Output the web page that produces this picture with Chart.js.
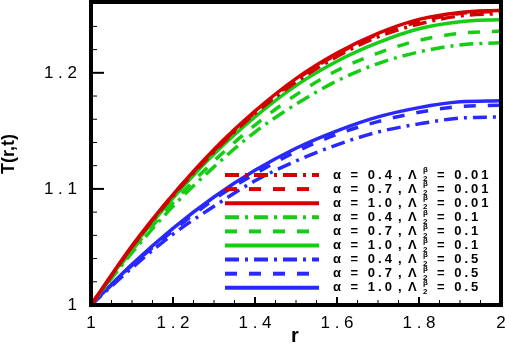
<!DOCTYPE html>
<html>
<head>
<meta charset="utf-8">
<script src="https://cdn.jsdelivr.net/npm/chart.js@4.4.1/dist/chart.umd.min.js"></script>
<style>
  html, body { margin: 0; padding: 0; background: #fff; }
</style>
</head>
<body>
<canvas id="tempChart" width="505" height="344"></canvas>
<script>
// radial positions
const rValues = [1, 1.1, 1.2, 1.3, 1.4, 1.5, 1.6, 1.7, 1.8, 1.9, 2];

// T(r,t), one array per curve
const T_a04_l001 = [1, 1.050, 1.094, 1.132, 1.165, 1.192, 1.214, 1.231, 1.242, 1.249, 1.251];
const T_a07_l001 = [1, 1.050, 1.095, 1.133, 1.166, 1.194, 1.216, 1.233, 1.244, 1.251, 1.253];
const T_a10_l001 = [1, 1.051, 1.095, 1.134, 1.167, 1.195, 1.217, 1.234, 1.246, 1.252, 1.254];
const T_a04_l01  = [1, 1.045, 1.085, 1.119, 1.149, 1.173, 1.193, 1.208, 1.218, 1.224, 1.226];
const T_a07_l01  = [1, 1.047, 1.088, 1.124, 1.155, 1.181, 1.202, 1.217, 1.228, 1.234, 1.236];
const T_a10_l01  = [1, 1.049, 1.092, 1.130, 1.162, 1.189, 1.210, 1.226, 1.238, 1.244, 1.246];
const T_a04_l05  = [1, 1.032, 1.061, 1.085, 1.107, 1.124, 1.138, 1.149, 1.156, 1.161, 1.162];
const T_a07_l05  = [1, 1.034, 1.064, 1.091, 1.113, 1.132, 1.147, 1.158, 1.166, 1.171, 1.172];
const T_a10_l05  = [1, 1.035, 1.066, 1.093, 1.116, 1.135, 1.150, 1.162, 1.170, 1.175, 1.176];

const alphaLabels  = ['0.4', '0.7', '1.0', '0.4', '0.7', '1.0', '0.4', '0.7', '1.0'];
const lambdaLabels = ['0.01', '0.01', '0.01', '0.1', '0.1', '0.1', '0.5', '0.5', '0.5'];

const xTicks = [1, 1.2, 1.4, 1.6, 1.8, 2];
const yTicks = [1, 1.1, 1.2];

const RED = 'rgb(212,0,0)', GREEN = 'rgb(20,205,20)', BLUE = 'rgb(40,40,255)';
const DASHDOT = [14, 6, 3, 6], DASH = [12, 12], SOLID = [];

const curves = [
  { values: T_a04_l001, color: RED,   dash: DASHDOT },
  { values: T_a07_l001, color: RED,   dash: DASH },
  { values: T_a10_l001, color: RED,   dash: SOLID },
  { values: T_a04_l01,  color: GREEN, dash: DASHDOT },
  { values: T_a07_l01,  color: GREEN, dash: DASH },
  { values: T_a10_l01,  color: GREEN, dash: SOLID },
  { values: T_a04_l05,  color: BLUE,  dash: DASHDOT },
  { values: T_a07_l05,  color: BLUE,  dash: DASH },
  { values: T_a10_l05,  color: BLUE,  dash: SOLID }
];

const FONT = "'Liberation Sans', Arial, sans-serif";

function spacedLabel(v) {
  if (Number.isInteger(v)) return String(v);
  return v.toFixed(1).split('').join(' ');
}

// draw text one char at a time with extra spacing (tecplot look)
function drawSpaced(ctx, text, x, y, gap) {
  for (const ch of text) {
    ctx.fillText(ch, x, y);
    x += ctx.measureText(ch).width + gap;
  }
}

// frame, inward ticks, axis titles and the legend
const framePlugin = {
  id: 'frame',
  afterDatasetsDraw(chart) {
    const { ctx, chartArea: a, scales } = chart;
    const xs = scales.x, ys = scales.y;
    ctx.save();
    ctx.strokeStyle = '#000';
    ctx.setLineDash([]);

    // x ticks (major 0.2, minor 0.05)
    for (let i = 0; i <= 20; i++) {
      const v = 1 + i * 0.05;
      const px = xs.getPixelForValue(v);
      const major = i % 4 === 0;
      ctx.lineWidth = major ? 2 : 1;
      ctx.beginPath();
      ctx.moveTo(px, a.bottom);
      ctx.lineTo(px, a.bottom - (major ? 8 : 5));
      ctx.stroke();
    }
    // y ticks (major 0.1, minor 0.02)
    for (let i = 0; i <= 13; i++) {
      const v = 1 + i * 0.02;
      if (v > ys.max) break;
      const py = ys.getPixelForValue(v);
      const major = i % 5 === 0;
      ctx.lineWidth = major ? 2 : 1;
      ctx.beginPath();
      ctx.moveTo(a.left, py);
      ctx.lineTo(a.left + (major ? 13 : 6), py);
      ctx.stroke();
    }

    // thick box
    ctx.lineWidth = 4;
    ctx.strokeRect(a.left, a.top, a.right - a.left, a.bottom - a.top);

    // axis titles
    ctx.fillStyle = '#000';
    ctx.textAlign = 'center';
    ctx.font = 'bold 20px ' + FONT;
    ctx.textBaseline = 'alphabetic';
    ctx.fillText('r', 295, 342);
    ctx.save();
    ctx.translate(9, 154);
    ctx.rotate(-Math.PI / 2);
    ctx.font = 'bold 18px ' + FONT;
    ctx.textBaseline = 'middle';
    ctx.fillText('T(r,t)', 0, 0);
    ctx.restore();

    // legend
    const y0 = 175, dy = 14.1;
    chart.data.datasets.forEach((ds, i) => {
      const y = y0 + i * dy;
      ctx.strokeStyle = ds.borderColor;
      ctx.lineWidth = 4;
      ctx.setLineDash(ds.borderDash);
      ctx.beginPath();
      ctx.moveTo(225, y);
      ctx.lineTo(319, y);
      ctx.stroke();
      ctx.setLineDash([]);

      ctx.fillStyle = '#000';
      ctx.textAlign = 'left';
      ctx.textBaseline = 'middle';
      ctx.font = 'bold 13px ' + FONT;
      drawSpaced(ctx, 'α = ' + alphaLabels[i], 333, y, 3);
      ctx.fillText(',', 398, y);
      ctx.fillText('Λ', 408, y);
      drawSpaced(ctx, '= ' + lambdaLabels[i], 437, y, 3);
      ctx.font = 'bold 8px ' + FONT;
      ctx.fillText('β', 423, y - 5);
      ctx.fillText('2', 423, y + 4);
    });
    ctx.restore();
  }
};

const ctx = document.getElementById('tempChart').getContext('2d');
const tempChart = new Chart(ctx, {
  type: 'line',
  data: {
    datasets: curves.map((c, i) => ({
      label: 'α = ' + alphaLabels[i] + ', Λ2β = ' + lambdaLabels[i],
      data: rValues.map((r, j) => ({ x: r, y: c.values[j] })),
      borderColor: c.color,
      borderDash: c.dash,
      borderWidth: 3.5,
      pointRadius: 0,
      fill: false,
      cubicInterpolationMode: 'monotone'
    }))
  },
  options: {
    responsive: false,
    animation: false,
    devicePixelRatio: 1,
    layout: { padding: { top: 2, right: 4, left: 0, bottom: 0 } },
    plugins: {
      legend: { display: false },
      tooltip: { enabled: false }
    },
    scales: {
      x: {
        type: 'linear',
        min: 1,
        max: 2,
        afterBuildTicks: s => { s.ticks = xTicks.map(v => ({ value: v })); },
        afterFit: s => { s.height = 39; s.paddingLeft = 0; s.paddingRight = 0; },
        grid: { display: false, drawTicks: false },
        border: { display: false },
        ticks: {
          color: '#000',
          padding: 8,
          maxRotation: 0,
          font: { family: FONT, size: 17 },
          callback: v => spacedLabel(v)
        }
      },
      y: {
        type: 'linear',
        min: 1,
        max: 1.261,
        afterBuildTicks: s => { s.ticks = yTicks.map(v => ({ value: v })); },
        afterFit: s => { s.width = 91; s.paddingTop = 0; s.paddingBottom = 0; },
        grid: { display: false, drawTicks: false },
        border: { display: false },
        ticks: {
          color: '#000',
          padding: 14,
          font: { family: FONT, size: 17 },
          callback: v => spacedLabel(v)
        }
      }
    }
  },
  plugins: [framePlugin]
});
</script>
</body>
</html>
